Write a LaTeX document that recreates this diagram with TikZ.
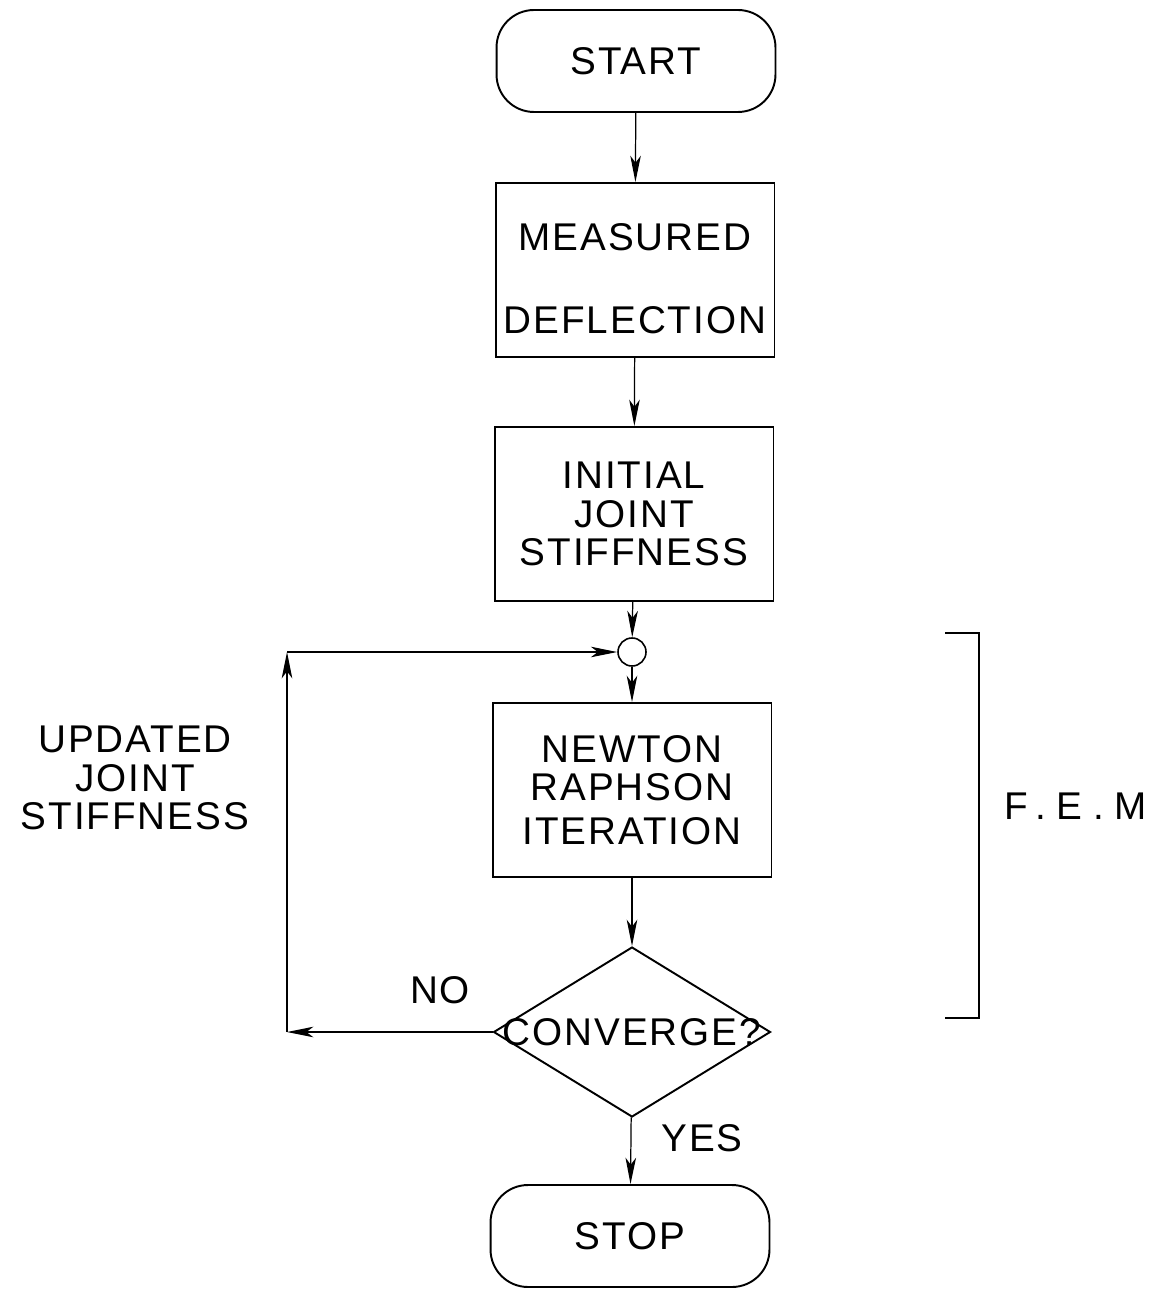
\documentclass[tikz,border=0pt]{standalone}
\usepackage{fontspec}
\newfontfamily\plotfont[LetterSpace=5]{Liberation Sans}
\usetikzlibrary{shapes.geometric,arrows.meta}

\begin{document}
\begin{tikzpicture}[x=0.02cm, y=-0.02cm,
    font=\plotfont\fontsize{22}{22}\selectfont,
    box/.style={draw, line width=1.1pt, minimum width=5.58cm, minimum height=3.48cm, inner sep=1pt, align=center},
    term/.style={box, rounded corners=0.75cm, minimum height=2.04cm},
    decision/.style={draw, diamond, line width=1.1pt, minimum width=5.54cm, minimum height=3.4cm, inner sep=0pt},
    joint/.style={draw, circle, line width=0.9pt, minimum size=0.56cm, inner sep=0pt},
    arr/.style={line width=0.7pt, -{Stealth[length=15pt, width=6pt, inset=4pt]}}]
    \useasboundingbox (0,0) rectangle (1161,1300);

    % flow chart blocks
    \node[term] (start) at (636,61) {START};
    \node[box, label={[align=center, yshift=-0.17cm]center:MEASURED\\[0.88cm]DEFLECTION}] (meas) at (635,270) {};
    \node[box] (init) at (634,514) {INITIAL\\JOINT\\STIFFNESS};
    \node[joint] (join) at (632,652) {};
    \node[box] (newton) at (632,790) {NEWTON\\RAPHSON\\[0.1cm]ITERATION};
    \node[decision, label={center:CONVERGE?}] (conv) at (632,1032) {};
    \node[term] (stop) at (630,1236) {STOP};

    % connectors
    \draw[arr] (start) -- (meas);
    \draw[arr] (meas) -- (init);
    \draw[arr] (init) -- (join);
    \draw[arr] (join) -- (newton);
    \draw[arr] (newton) -- (conv);
    \draw[arr] (conv) -- (stop);

    % loop back
    \coordinate (nobend) at (287,1032);
    \coordinate (upbend) at (287,652);
    \draw[arr] (conv.west) -- (nobend);
    \draw[arr] (nobend) -- (upbend);
    \draw[arr] (upbend) -- (join.west);

    \node at (440,990) {NO};
    \node at (702,1138) {YES};
    \node[align=center] (upd) at (135,778) {UPDATED\\JOINT\\STIFFNESS};

    % F.E.M bracket
    \draw[line width=0.9pt] (945,633) -- (979,633) -- (979,1018) -- (945,1018);
    \node[font=\plotfont\addfontfeature{LetterSpace=28}\fontsize{22}{22}\selectfont] (fem) at (1076,806) {F.E.M};
\end{tikzpicture}
\end{document}
